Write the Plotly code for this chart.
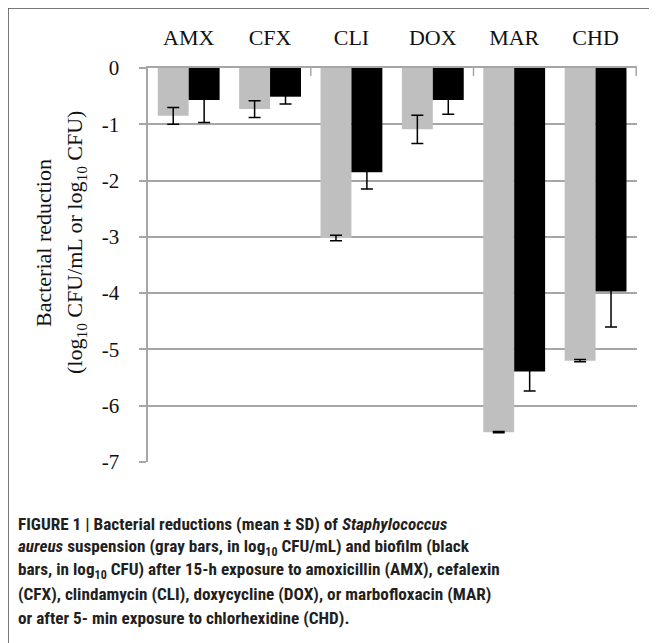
import plotly.graph_objects as go

categories = ["AMX", "CFX", "CLI", "DOX", "MAR", "CHD"]
suspension_mean = [-0.85, -0.73, -3.02, -1.09, -6.47, -5.20]
suspension_sd = [0.15, 0.15, 0.05, 0.25, 0.01, 0.02]
biofilm_mean = [-0.57, -0.51, -1.85, -0.57, -5.39, -3.97]
biofilm_sd = [0.40, 0.13, 0.30, 0.25, 0.35, 0.63]
y_ticks = [0, -1, -2, -3, -4, -5, -6, -7]
y_tick_labels = ["0", "-1", "-2", "-3", "-4", "-5", "-6", "-7"]
boundary_ticks = [1.5, 3.5, 5.5]

title_lines = [
    "Bacterial reduction",
    "(log<sub>10</sub> CFU/mL or log<sub>10</sub> CFU)",
]

caption_lines = [
    "<b>FIGURE 1 | Bacterial reductions (mean ± SD) of <i>Staphylococcus</i></b>",
    "<b><i>aureus</i> suspension (gray bars, in log<sub>10</sub> CFU/mL) and biofilm (black</b>",
    "<b>bars, in log<sub>10</sub> CFU) after 15-h exposure to amoxicillin (AMX), cefalexin</b>",
    "<b>(CFX), clindamycin (CLI), doxycycline (DOX), or marbofloxacin (MAR)</b>",
    "<b>or after 5- min exposure to chlorhexidine (CHD).</b>",
]

# the page shows the figure offset by the 8px body margin
OFF = 8
W, H = 657, 643
L, T = 148 - OFF, 68 - OFF
R = W - (637 - OFF)
B = H - (462 - OFF)
PW, PH = W - L - R, H - T - B

def px_x(x):
    return (x - OFF - L) / PW

def px_y(y):
    return (H - B - (y - OFF)) / PH

SERIF = "Liberation Serif, Times New Roman, serif"
CAP_FONT = "Liberation Sans Narrow, Arial Narrow, Roboto Condensed, DejaVu Sans Condensed, Liberation Sans, Arial, sans-serif"
GRID = "#a6a6a6"
PAD = "\u00a0\u00a0\u00a0"

fig = go.Figure()
fig.add_trace(go.Bar(
    x=categories, y=suspension_mean, name="suspension",
    marker=dict(color="#bfbfbf", line=dict(width=0)),
    error_y=dict(type="data", array=suspension_sd, color="#000000", thickness=1.5, width=6),
))
fig.add_trace(go.Bar(
    x=categories, y=biofilm_mean, name="biofilm",
    marker=dict(color="#000000", line=dict(width=0)),
    error_y=dict(type="data", array=biofilm_sd, color="#000000", thickness=1.5, width=6),
))

fig.update_layout(
    width=W, height=H,
    margin=dict(l=L, r=R, t=T, b=B, autoexpand=False),
    paper_bgcolor="white", plot_bgcolor="white",
    barmode="group", bargap=0.24, bargroupgap=0,
    showlegend=False,
    xaxis=dict(
        type="category", side="top", showline=True, linecolor=GRID, linewidth=1.5,
        ticks="", showgrid=False, zeroline=False,
        tickfont=dict(family=SERIF, size=22, color="#111111"),
        ticklabelstandoff=12,
    ),
    yaxis=dict(
        range=[-7, 0], tickmode="array", tickvals=y_ticks,
        ticktext=[t + PAD for t in y_tick_labels],
        showgrid=True, gridcolor=GRID, gridwidth=1.5,
        showline=True, linecolor=GRID, linewidth=1.5,
        ticks="outside", ticklen=7, tickcolor=GRID, tickwidth=1.5,
        zeroline=False,
        tickfont=dict(family=SERIF, size=21, color="#111111"),
    ),
)

# small category-boundary ticks hanging from the top axis
for bx in boundary_ticks:
    fig.add_shape(
        type="line", xref="x", yref="paper", x0=bx, x1=bx, y0=1, y1=1 - 8 / PH,
        line=dict(color=GRID, width=1.5),
    )

for line, cx in zip(title_lines, [43, 76]):
    fig.add_annotation(
        text=line, xref="paper", yref="paper", x=px_x(cx), y=px_y(243),
        xanchor="center", yanchor="middle", textangle=-90, showarrow=False,
        font=dict(family=SERIF, size=22, color="#111111"),
    )

baselines = [529, 552.5, 576, 599.5, 623]
for line, bl in zip(caption_lines, baselines):
    fig.add_annotation(
        text=line, xref="paper", yref="paper", x=px_x(16), y=px_y(bl - 5.5),
        xanchor="left", yanchor="middle", showarrow=False, align="left",
        font=dict(family=CAP_FONT, size=17.2, color="#231f20"),
    )

fig.add_shape(
    type="path", xref="paper", yref="paper",
    path=f"M {px_x(8)},{px_y(660)} L {px_x(8)},{px_y(8)} L {px_x(680)},{px_y(8)}",
    line=dict(color="#4d4d4d", width=1.5),
)

fig.write_html("out.html")
